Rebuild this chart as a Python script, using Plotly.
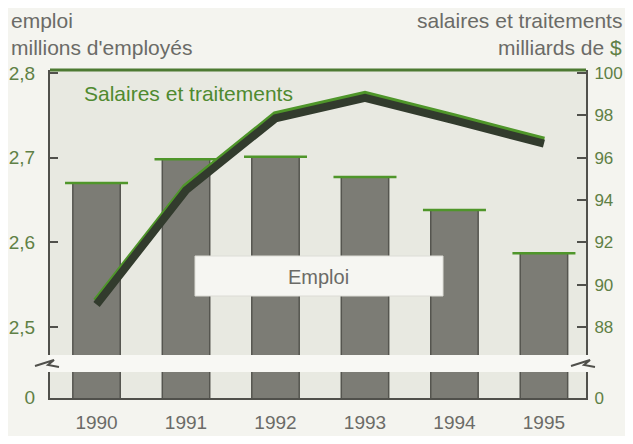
import plotly.graph_objects as go

# ---- data ----
years = ["1990", "1991", "1992", "1993", "1994", "1995"]
emploi = [2.670, 2.698, 2.701, 2.677, 2.638, 2.587]          # millions d'employés
salaires = [89.2, 94.6, 98.0, 98.96, 97.9, 96.8]              # milliards de $
left_tickvals = [2.4166, 2.5, 2.6, 2.7, 2.8]
left_ticktext = ["0", "2,5", "2,6", "2,7", "2,8"]
right_tickvals = [84.66, 88, 90, 92, 94, 96, 98, 100]
right_ticktext = ["0", "88", "90", "92", "94", "96", "98", "100"]

FONT = "Liberation Sans, Arial, sans-serif"
GRAY_TXT = "#6b6b67"
GREEN_TXT = "#5f8045"
BAR_FILL = "#7c7c75"
BAR_EDGE = "#55554f"
GREEN = "#4f962a"
DARK_LINE = "#323b2d"

# screen geometry (page body has an 8px margin)
W, H = 617, 428
PL, PR, PT, PB = 50, 586, 70, 398
PW, PH = PR - PL, PB - PT


def px(x):
    return (x - PL) / PW


def py(y):
    return (PB - y) / PH


fig = go.Figure()

fig.add_trace(go.Bar(
    x=years, y=emploi, width=0.53,
    marker=dict(color=BAR_FILL, line=dict(color=BAR_EDGE, width=1.5)),
    yaxis="y", showlegend=False, hoverinfo="skip"))

# green top edge of bars
fig.add_trace(go.Scatter(
    x=years, y=emploi, mode="markers", yaxis="y",
    marker=dict(symbol="line-ew", size=45, line=dict(color=GREEN, width=2.5)),
    showlegend=False, hoverinfo="skip"))

# green highlight (true position) + dark body drawn just below it
fig.add_trace(go.Scatter(
    x=years, y=salaires, mode="lines", yaxis="y2",
    line=dict(color=GREEN, width=8), showlegend=False, hoverinfo="skip"))
fig.add_trace(go.Scatter(
    x=years, y=salaires, mode="lines", yaxis="y3",
    line=dict(color=DARK_LINE, width=8), showlegend=False, hoverinfo="skip"))

L0, L1 = 2.4161, 2.8035
R0, R1 = 84.644, 100.14
shift = 0.14

fig.update_layout(
    width=W, height=H,
    margin=dict(l=PL - 8, r=W - (PR - 8), t=PT - 8, b=H - (PB - 8)),
    paper_bgcolor="#f4f4ef",
    plot_bgcolor="#e8e9e1",
    font=dict(family=FONT, size=19, color=GRAY_TXT),
    xaxis=dict(type="category", range=[-0.52, 5.47], showgrid=False,
               showline=True, linecolor="#50504b", linewidth=2,
               ticks="", tickfont=dict(size=19, color=GRAY_TXT),
               ticklabelstandoff=6, zeroline=False, automargin=False),
    yaxis=dict(range=[L0, L1], tickvals=left_tickvals, ticktext=left_ticktext,
               showgrid=False, zeroline=False, showline=True,
               linecolor="#50504b", linewidth=2, ticks="inside", ticklen=8,
               tickcolor="#50504b", tickwidth=2, automargin=False,
               tickfont=dict(size=19, color=GREEN_TXT), ticklabelstandoff=9),
    yaxis2=dict(range=[R0, R1], tickvals=right_tickvals, ticktext=right_ticktext,
                overlaying="y", side="right", showgrid=False, zeroline=False,
                showline=True, linecolor="#50504b", linewidth=2,
                ticks="inside", ticklen=9, tickcolor="#50504b", tickwidth=2,
                automargin=False,
                tickfont=dict(size=17, color=GREEN_TXT), ticklabelstandoff=3),
    yaxis3=dict(range=[R0 + shift, R1 + shift], overlaying="y", visible=False,
                automargin=False),
)

# top frame line (green)
fig.add_shape(type="line", xref="paper", yref="paper", x0=0, x1=1, y0=1, y1=1,
              line=dict(color="#4d7a32", width=3), layer="above")

# axis break band
fig.add_shape(type="rect", xref="paper", yref="paper", x0=-0.006, x1=1.006,
              y0=py(372), y1=py(355), fillcolor="#f8f8f4", line=dict(width=0),
              layer="above")
for xa in (0, 1):
    fig.add_shape(type="path", xref="paper", yref="paper",
                  xsizemode="pixel", ysizemode="pixel", xanchor=xa,
                  yanchor=py(363),
                  path="M -15,-3 L 4,3 L -2,-2 L 9,-4",
                  line=dict(color="#50504b", width=2), layer="above")

# Emploi box
fig.add_shape(type="rect", xref="paper", yref="paper",
              x0=px(195), x1=px(443), y0=py(296), y1=py(256),
              fillcolor="#f6f6f2", line=dict(color="#dcdcd6", width=1),
              layer="above")
fig.add_annotation(text="Emploi", xref="paper", yref="paper",
                   x=px(318), y=py(277), xanchor="center", yanchor="middle",
                   showarrow=False, font=dict(size=20, color=GRAY_TXT))

fig.add_annotation(text="Salaires et traitements", xref="paper", yref="paper",
                   x=px(188), y=py(94), xanchor="center", yanchor="middle",
                   showarrow=False, font=dict(size=21, color="#4f8a30"))

# headers
fig.add_annotation(text="emploi", xref="paper", yref="paper",
                   x=px(9), y=py(20), xanchor="left",
                   yanchor="middle", showarrow=False, font=dict(size=21))
fig.add_annotation(text="millions d'employés", xref="paper", yref="paper",
                   x=px(9), y=py(47), xanchor="left",
                   yanchor="middle", showarrow=False, font=dict(size=21))
fig.add_annotation(text="salaires et traitements", xref="paper", yref="paper",
                   x=px(624), y=py(20), xanchor="right",
                   yanchor="middle", showarrow=False, font=dict(size=21))
fig.add_annotation(text="milliards de <span style='color:#5f8045'>$</span>",
                   xref="paper", yref="paper",
                   x=px(624), y=py(48), xanchor="right",
                   yanchor="middle", showarrow=False, font=dict(size=21))

fig.write_html("out.html")
